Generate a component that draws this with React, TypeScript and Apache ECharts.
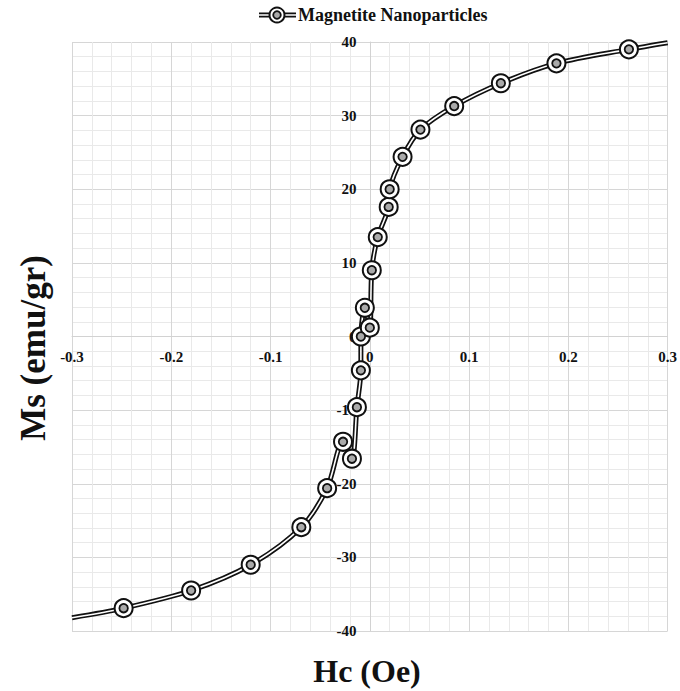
import React, { useEffect, useRef } from "react";
import * as echarts from "echarts";

// Measured points (Hc in Oe, Ms in emu/gr)
const hc = [-0.248, -0.180, -0.120, -0.069, -0.043, -0.027, -0.018, -0.013, -0.009, -0.009, -0.005, 0.000, 0.002, 0.008, 0.019, 0.020, 0.033, 0.051, 0.085, 0.132, 0.188, 0.261];
const ms = [-36.9, -34.5, -31.0, -25.9, -20.6, -14.3, -16.6, -9.6, -4.6, 0.0, 3.9, 1.2, 9.0, 13.5, 17.6, 20.0, 24.4, 28.1, 31.3, 34.4, 37.1, 39.0];
// Where the smoothed curve leaves the plot
const edgeStart = [-0.3, -38.2];
const edgeEnd = [0.3, 39.9];

const xTicks = { min: -0.3, max: 0.3, interval: 0.1 };
const yTicks = { min: -40, max: 40, interval: 10 };
const seriesName = "Magnetite Nanoparticles";

const FONT = "Liberation Serif";
const GRID = { left: 72, right: 11, top: 42, bottom: 60 };
const W = 680;
const H = 691;

export default function App() {
  const ref = useRef<HTMLDivElement>(null);
  useEffect(() => {
    document.body.style.margin = "0";
    if (!ref.current) return;
    const chart = echarts.init(ref.current, null, { renderer: "svg" });
    const pts = hc.map((x, i) => [x, ms[i]]);
    const lineData = [edgeStart, ...pts, edgeEnd];
    const plotW = W - GRID.left - GRID.right;
    const plotH = H - GRID.top - GRID.bottom;
    // place each axis on the other's zero
    const xZeroFrac = (0 - xTicks.min) / (xTicks.max - xTicks.min);
    const yZeroFrac = (0 - yTicks.min) / (yTicks.max - yTicks.min);
    const labelStyle = { fontFamily: FONT, fontWeight: "bold" as const, fontSize: 15, color: "#111" };
    chart.setOption({
      animation: false,
      backgroundColor: "#fff",
      grid: { ...GRID, containLabel: false },
      xAxis: {
        type: "value",
        min: xTicks.min,
        max: xTicks.max,
        interval: xTicks.interval,
        position: "bottom",
        offset: -plotH * yZeroFrac,
        axisLine: { show: true, onZero: false, lineStyle: { color: "#d2d2d2", width: 1 } },
        axisTick: { show: false },
        axisLabel: {
          ...labelStyle,
          margin: 13,
          formatter: (v: number) => (Math.abs(v) < 1e-9 ? "0" : (Math.round(v * 10) / 10).toString()),
        },
        splitLine: { show: true, lineStyle: { color: "#d6d6d6", width: 1 } },
        minorTick: { show: false, splitNumber: 5 },
        minorSplitLine: { show: true, lineStyle: { color: "#e9e9e9", width: 1 } },
      },
      yAxis: {
        type: "value",
        min: yTicks.min,
        max: yTicks.max,
        interval: yTicks.interval,
        position: "left",
        offset: -plotW * xZeroFrac,
        axisLine: { show: true, onZero: false, lineStyle: { color: "#d2d2d2", width: 1 } },
        axisTick: { show: false },
        axisLabel: { ...labelStyle, margin: 14 },
        splitLine: { show: true, lineStyle: { color: "#d6d6d6", width: 1 } },
        minorTick: { show: false, splitNumber: 5 },
        minorSplitLine: { show: true, lineStyle: { color: "#e9e9e9", width: 1 } },
      },
      graphic: [
        {
          type: "text",
          x: 33,
          y: 348,
          rotation: Math.PI / 2,
          style: {
            text: "Ms (emu/gr)",
            fontFamily: FONT,
            fontWeight: "bold",
            fontSize: 35,
            fill: "#111",
            align: "center",
            verticalAlign: "middle",
          },
        },
        {
          type: "text",
          x: 367,
          y: 671,
          style: {
            text: "Hc (Oe)",
            fontFamily: FONT,
            fontWeight: "bold",
            fontSize: 32,
            fill: "#111",
            align: "center",
            verticalAlign: "middle",
          },
        },
        { type: "line", shape: { x1: 259, y1: 15, x2: 296, y2: 15 }, style: { stroke: "#111", lineWidth: 5 } },
        { type: "line", shape: { x1: 259, y1: 15, x2: 296, y2: 15 }, style: { stroke: "#fff", lineWidth: 1.6 } },
        { type: "circle", shape: { cx: 277, cy: 15, r: 7.5 }, style: { fill: "#fff", stroke: "#111", lineWidth: 2 } },
        { type: "circle", shape: { cx: 277, cy: 15, r: 3.8 }, style: { fill: "#aaa", stroke: "#111", lineWidth: 1.8 } },
        {
          type: "text",
          x: 298,
          y: 15,
          style: {
            text: seriesName,
            fontFamily: FONT,
            fontWeight: "bold",
            fontSize: 18,
            fill: "#111",
            align: "left",
            verticalAlign: "middle",
          },
        },
      ],
      series: [
        {
          name: seriesName,
          type: "line",
          data: lineData,
          smooth: 0.3,
          showSymbol: false,
          symbol: "none",
          lineStyle: { color: "#111", width: 5 },
          z: 2,
        },
        {
          name: seriesName + " inner",
          type: "line",
          data: lineData,
          smooth: 0.3,
          showSymbol: false,
          symbol: "none",
          lineStyle: { color: "#fff", width: 1.6 },
          z: 3,
        },
        {
          name: seriesName + " marker",
          type: "scatter",
          data: pts,
          symbol: "circle",
          symbolSize: 18,
          itemStyle: { color: "#fff", borderColor: "#111", borderWidth: 2, opacity: 1 },
          z: 4,
        },
        {
          name: seriesName + " marker core",
          type: "scatter",
          data: pts,
          symbol: "circle",
          symbolSize: 8.5,
          itemStyle: { color: "#aaa", borderColor: "#111", borderWidth: 1.8, opacity: 1 },
          z: 5,
        },
      ],
    });
    return () => chart.dispose();
  }, []);
  return <div ref={ref} style={{ width: W, height: H }} />;
}
